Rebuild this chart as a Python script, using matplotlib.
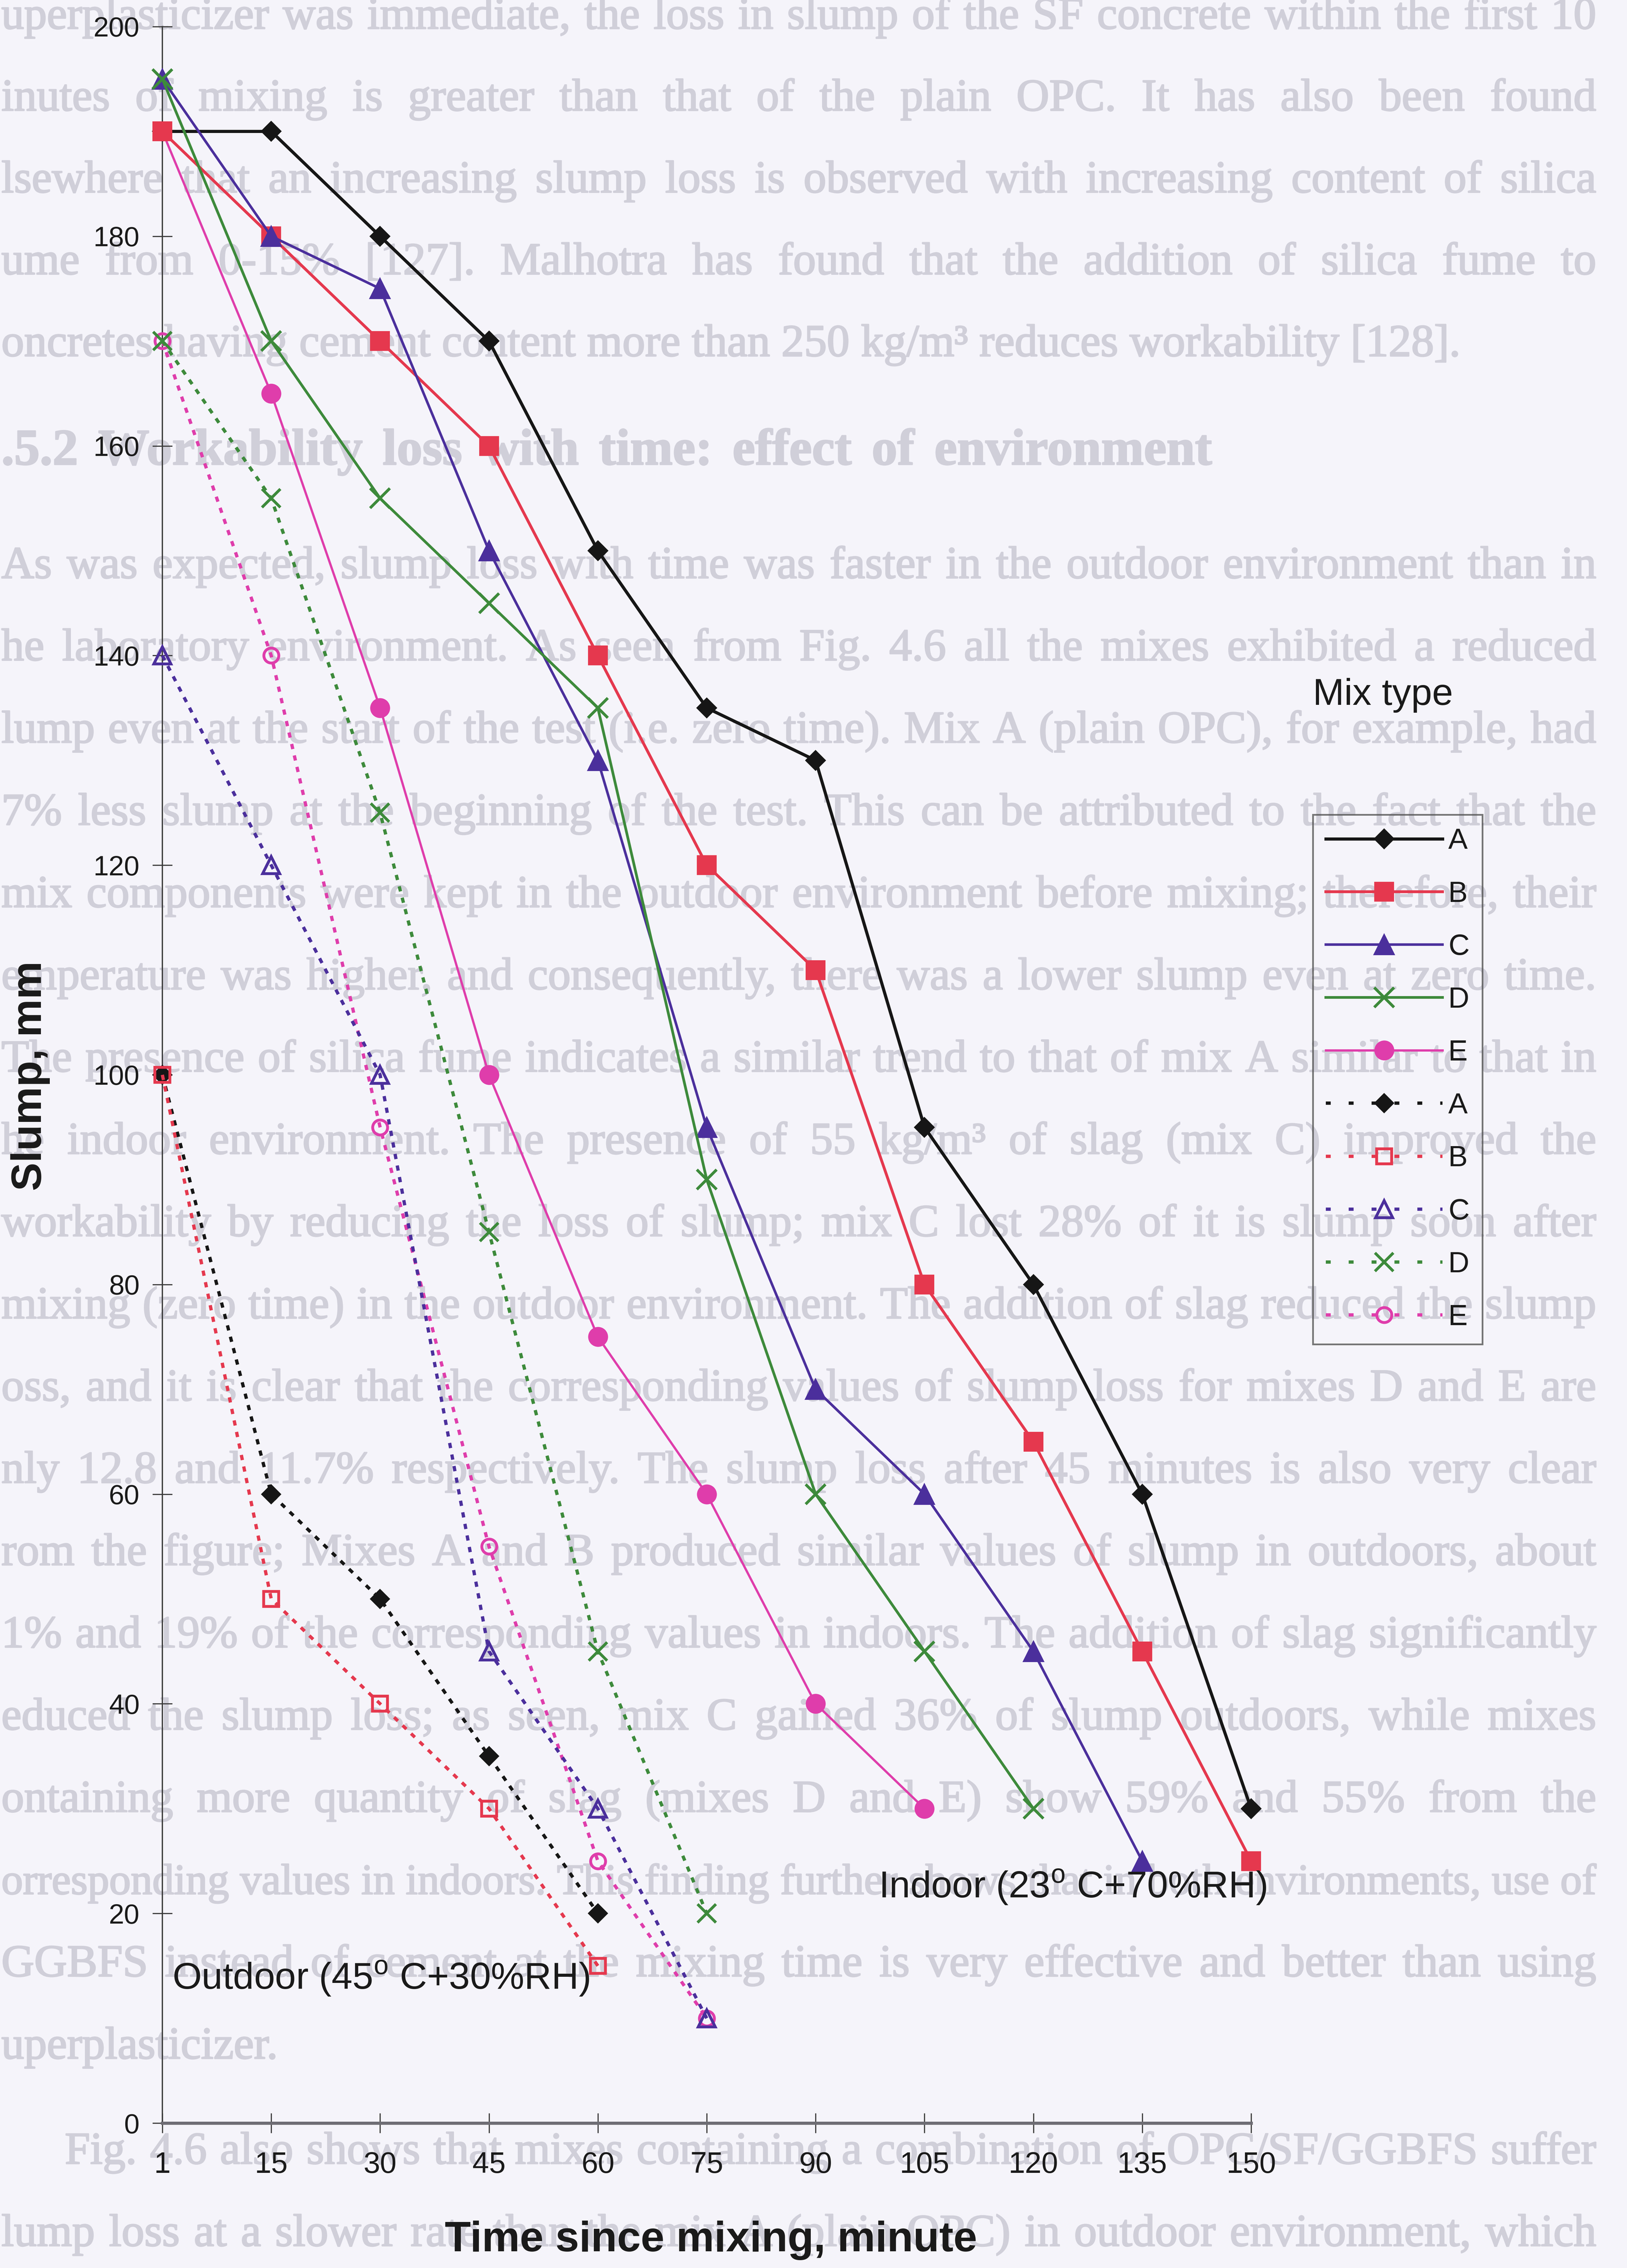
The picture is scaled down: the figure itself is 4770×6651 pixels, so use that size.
import matplotlib
matplotlib.use("Agg")
import matplotlib.pyplot as plt
import matplotlib.patheffects as pe
from matplotlib.lines import Line2D

W, H, DPI = 4770, 6651, 300
BG = "#f5f4fa"
PAGE_TEXT = "#d0cfd9"

plt.rcParams["font.family"] = ["Liberation Sans", "DejaVu Sans"]
plt.rcParams["mathtext.fontset"] = "custom"
plt.rcParams["mathtext.rm"] = "Liberation Sans"

# ---------------- data ----------------
times = [1, 15, 30, 45, 60, 75, 90, 105, 120, 135, 150]
tick_labels = [str(t) for t in times]
mix_labels = ["A", "B", "C", "D", "E"]
y_ticks = [0, 20, 40, 60, 80, 100, 120, 140, 160, 180, 200]

indoor_A = [190, 190, 180, 170, 150, 135, 130, 95, 80, 60, 30]
indoor_B = [190, 180, 170, 160, 140, 120, 110, 80, 65, 45, 25]
indoor_C = [195, 180, 175, 150, 130, 95, 70, 60, 45, 25]
indoor_D = [195, 170, 155, 145, 135, 90, 60, 45, 30]
indoor_E = [190, 165, 135, 100, 75, 60, 40, 30]

outdoor_A = [100, 60, 50, 35, 20]
outdoor_B = [100, 50, 40, 30, 15]
outdoor_C = [140, 120, 100, 45, 30, 10]
outdoor_D = [170, 155, 125, 85, 45, 20]
outdoor_E = [170, 140, 95, 55, 25, 10]

indoor = {"A": indoor_A, "B": indoor_B, "C": indoor_C, "D": indoor_D, "E": indoor_E}
outdoor = {"A": outdoor_A, "B": outdoor_B, "C": outdoor_C, "D": outdoor_D, "E": outdoor_E}

# ---------------- styles ----------------
colors = {"A": "#161616", "B": "#e5384e", "C": "#4b2f9c", "D": "#3d8a3b", "E": "#df3dab"}
markers = {"A": "D", "B": "s", "C": "^", "D": "x", "E": "o"}
in_ms = {"A": 9.5, "B": 13, "C": 14, "D": 14, "E": 13}
in_lw = {"A": 2.2, "B": 2.0, "C": 1.8, "D": 1.9, "E": 1.6}
out_ms = {"A": 9.0, "B": 10.5, "C": 12, "D": 13, "E": 10.5}


def indoor_style(m):
    c = colors[m]
    return dict(color=c, lw=in_lw[m], marker=markers[m], ms=in_ms[m],
                mfc=c, mec=c, mew=2.0 if m == "D" else 1.0, ls="-")


def outdoor_style(m, dashes=(1.6, 2.0)):
    c = colors[m]
    filled = m == "A"
    return dict(color=c, lw=2.3, marker=markers[m], ms=out_ms[m],
                mfc=c if filled else "none", mec=c, mew=2.0 if m != "A" else 1.0,
                ls=(0, dashes))


# ---------------- figure ----------------
fig = plt.figure(figsize=(W / DPI, H / DPI), dpi=DPI, facecolor=BG)
renderer = fig.canvas.get_renderer()

# background page text (typeset behind the chart)
BODY_SIZE = 32
RIGHT = 4680
soften = [pe.withStroke(linewidth=0.9, foreground=PAGE_TEXT)]


def page_line(text, x0, x1, y, size=BODY_SIZE, weight="normal", justify=True):
    words = text.split()
    arts = [fig.text(0, 1 - y / H, w, fontsize=size, family="Liberation Serif",
                     fontweight=weight, color=PAGE_TEXT, ha="left", va="baseline",
                     zorder=-5, path_effects=soften) for w in words]
    widths = [a.get_window_extent(renderer).width for a in arts]
    px = size * DPI / 72
    total = sum(widths)
    n = len(words)
    if justify and n > 1:
        gap = (x1 - x0 - total) / (n - 1)
        min_gap = 0.24 * px
        if gap < min_gap:
            scale = (x1 - x0 - min_gap * (n - 1)) / total
            for a in arts:
                a.set_fontsize(size * scale)
            widths = [w * scale for w in widths]
            gap = min_gap
    else:
        gap = 0.25 * px
    x = x0
    for a, w in zip(arts, widths):
        a.set_x(x / W)
        x += w + gap


para1 = [
    "uperplasticizer was immediate, the loss in slump of the SF concrete within the first 10",
    "inutes of mixing is greater than that of the plain OPC. It has also been found",
    "lsewhere that an increasing slump loss is observed with increasing content of silica",
    "ume from 0-15% [127]. Malhotra has found that the addition of silica fume to",
    "oncretes having cement content more than 250 kg/m\u00b3 reduces workability [128].",
]
para1_right = [RIGHT, RIGHT, RIGHT, RIGHT, 4282]
for i, (t, r) in enumerate(zip(para1, para1_right)):
    page_line(t, 4, r, 84 + 240 * i)

page_line(".5.2 Workability loss with time: effect of environment", 4, 3553, 1362,
          size=36, weight="bold")

para2 = [
    "As was expected, slump loss with time was faster in the outdoor environment than in",
    "he laboratory environment. As seen from Fig. 4.6 all the mixes exhibited a reduced",
    "lump even at the start of the test (i.e. zero time). Mix A (plain OPC), for example, had",
    "7% less slump at the beginning of the test. This can be attributed to the fact that the",
    "mix components were kept in the outdoor environment before mixing; therefore, their",
    "emperature was higher, and consequently, there was a lower slump even at zero time.",
    "The presence of silica fume indicates a similar trend to that of mix A similar to that in",
    "he indoor environment. The presence of 55 kg/m\u00b3 of slag (mix C) improved the",
    "workability by reducing the loss of slump; mix C lost 28% of it is slump soon after",
    "mixing (zero time) in the outdoor environment. The addition of slag reduced the slump",
    "oss, and it is clear that the corresponding values of slump loss for mixes D and E are",
    "nly 12.8 and 11.7% respectively. The slump loss after 45 minutes is also very clear",
    "rom the figure; Mixes A and B produced similar values of slump in outdoors, about",
    "1% and 19% of the corresponding values in indoors. The addition of slag significantly",
    "educed the slump loss; as seen, mix C gained 36% of slump outdoors, while mixes",
    "ontaining more quantity of slag (mixes D and E) show 59% and 55% from the",
    "orresponding values in indoors. This finding further shows that in both environments, use of",
    "GGBFS instead of cement at the mixing time is very effective and better than using",
]
for i, t in enumerate(para2):
    page_line(t, 4, RIGHT, 1695 + 241.2 * i)
page_line("uperplasticizer.", 4, 776, 1695 + 241.2 * 18, justify=False)

page_line("Fig. 4.6 also shows that mixes containing a combination of OPC/SF/GGBFS suffer",
          190, RIGHT, 6345)
page_line("lump loss at a slower rate than the mix A (plain OPC) in outdoor environment, which",
          4, RIGHT, 6586)

# ---------------- chart ----------------
ax_left, ax_right = 476 / W, 3668 / W
ax_bottom, ax_top = 1 - 6226 / H, 1 - 78 / H
ax = fig.add_axes([ax_left, ax_bottom, ax_right - ax_left, ax_top - ax_bottom])
ax.patch.set_visible(False)

xpos = list(range(len(times)))
for m in ["E", "A", "B", "C", "D"]:
    vals = indoor[m]
    ax.plot(xpos[:len(vals)], vals, clip_on=False, zorder=4, **indoor_style(m))
for m in ["E", "A", "B", "C", "D"]:
    vals = outdoor[m]
    ax.plot(xpos[:len(vals)], vals, clip_on=False, zorder=3, **outdoor_style(m))

ax.set_xlim(0, len(times) - 1)
ax.set_ylim(0, 200)
ax.set_xticks(xpos)
ax.set_xticklabels(tick_labels)
ax.set_yticks(y_ticks)
for s in ["top", "right"]:
    ax.spines[s].set_visible(False)
ax.spines["left"].set_color("#3a3a3a")
ax.spines["left"].set_linewidth(0.9)
ax.spines["bottom"].set_color("#6e6d74")
ax.spines["bottom"].set_linewidth(2.2)
ax.tick_params(axis="both", direction="inout", length=14, width=0.8, color="#3a3a3a",
               labelcolor="#1a1a1a")
ax.tick_params(axis="y", labelsize=19.5, pad=9)
ax.tick_params(axis="x", labelsize=21, pad=13)

ax.text(6.58, 21.5, r"Indoor (23$^{\rm o}$ C+70%RH)", fontsize=26.5, color="#1a1a1a",
        ha="left", va="baseline", zorder=6)
ax.text(0.09, 12.8, r"Outdoor (45$^{\rm o}$ C+30%RH)", fontsize=26.5, color="#1a1a1a",
        ha="left", va="baseline", zorder=6)

fig.text(89 / W, 1 - 3155 / H, "Slump, mm", rotation=90, fontsize=30, fontweight="bold",
         color="#1a1a1a", ha="center", va="center")
fig.text(2084 / W, 1 - 6602 / H, "Time since mixing, minute", fontsize=30,
         fontweight="bold", color="#1a1a1a", ha="center", va="baseline")

# legend
fig.text(3849 / W, 1 - 2067 / H, "Mix type", fontsize=26.5, color="#1a1a1a",
         ha="left", va="baseline")
handles = [Line2D([], [], **indoor_style(m)) for m in mix_labels]
handles += [Line2D([], [], **outdoor_style(m, dashes=(1.5, 5.5))) for m in mix_labels]
leg = fig.legend(handles, mix_labels + mix_labels, loc="upper left",
                 bbox_to_anchor=(3849 / W, 1 - 2389 / H), bbox_transform=fig.transFigure,
                 borderaxespad=0, frameon=True, fancybox=False, fontsize=20.5,
                 handlelength=4.0, handletextpad=0.2, borderpad=0.45, labelspacing=0.88)
frame = leg.get_frame()
frame.set_facecolor("none")
frame.set_edgecolor("#555555")
frame.set_linewidth(1.2)
for t in leg.get_texts():
    t.set_color("#1a1a1a")

fig.savefig("out.png", dpi=DPI, facecolor=BG)
